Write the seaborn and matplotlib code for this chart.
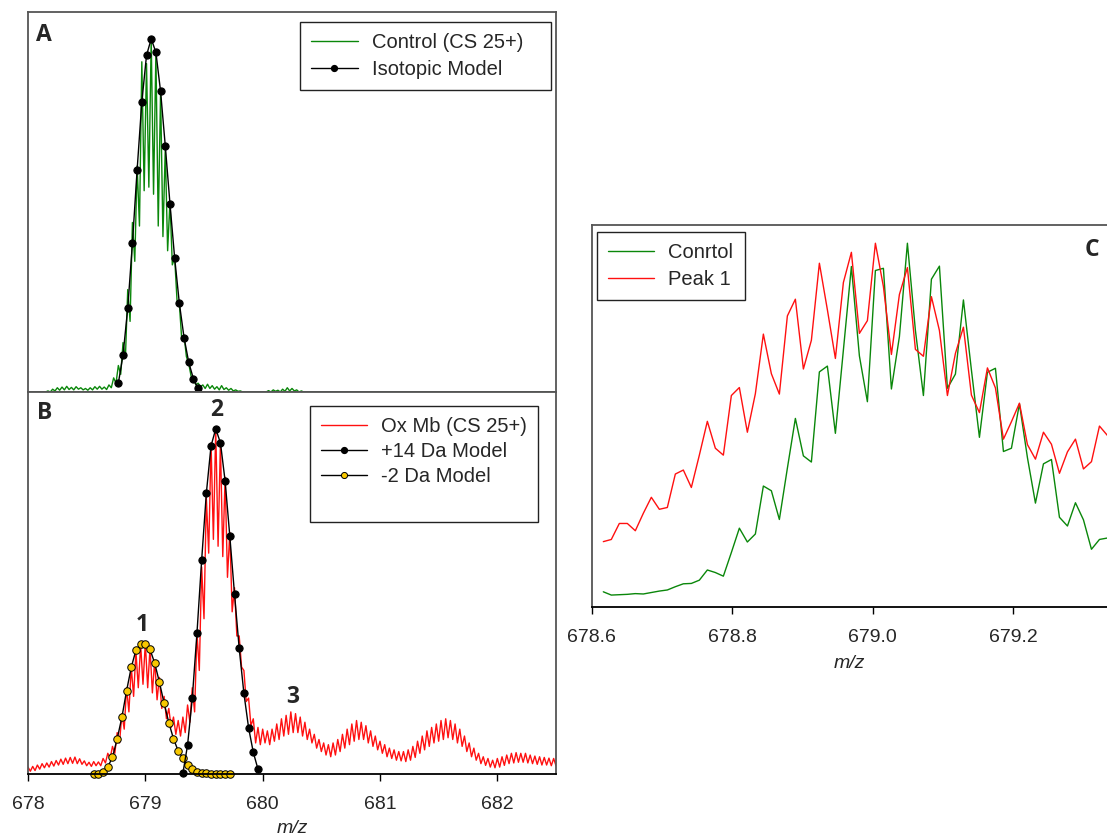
import numpy as np
import pandas as pd
import matplotlib
matplotlib.use("Agg")
import matplotlib.pyplot as plt
import seaborn as sns
from matplotlib.lines import Line2D

# ---------------- data ----------------
# Panel A: control spectrum, sampled every 0.02 m/z from 678.01
A_MZ_START, A_MZ_STEP = 678.01, 0.02
A_CONTROL = [
    0, 0, 0, 0, 0, 0, 0, 0, 0.3, 0.0,
    0.8, 0.3, 1.2, 0.5, 1.4, 0.6, 1.6, 0.7, 1.3, 0.6,
    1.5, 0.8, 1.2, 0.6, 1.0, 0.5, 1.2, 0.6, 1.5, 0.8,
    1.6, 0.8, 1.4, 0.7, 2.0, 1.2, 4.0, 2.5, 7.5, 5.0,
    14.0, 9.5, 29.0, 20.0, 48.0, 37.0, 64.0, 47.0, 93.5, 57.0,
    93.0, 58.0, 100.0, 56.0, 96.0, 47.0, 85.0, 44.0, 69.0, 40.0,
    54.0, 36.0, 38.0, 26.0, 25.0, 15.0, 16.0, 10.0, 8.0, 4.5,
    4.0, 2.0, 2.5, 1.5, 2.0, 1.0, 2.2, 1.0, 1.8, 0.8,
    1.5, 0.6, 1.8, 0.7, 1.2, 0.5, 1.0, 0.3, 0.6, 0.2,
    0.3, 0, 0, 0, 0, 0, 0, 0, 0, 0,
    0, 0, 0.4, 0, 0.6, 0.2, 0.5, 0, 0.8, 0.2,
    1.2, 0.3, 1.0, 0.3, 0.6, 0, 0.3, 0, 0, 0,
    0, 0, 0, 0, 0, 0, 0, 0, 0, 0,
    0, 0, 0, 0, 0, 0, 0, 0, 0, 0,
    0, 0, 0, 0, 0, 0, 0, 0, 0, 0,
    0, 0, 0, 0, 0, 0, 0, 0, 0, 0,
    0, 0, 0, 0, 0, 0, 0, 0, 0, 0,
    0, 0, 0, 0, 0, 0, 0, 0, 0, 0,
    0, 0, 0, 0, 0, 0, 0, 0, 0, 0,
    0, 0, 0, 0, 0, 0, 0, 0, 0, 0,
    0, 0, 0, 0, 0, 0, 0, 0, 0, 0,
    0, 0, 0, 0, 0, 0, 0, 0, 0, 0,
    0, 0, 0, 0, 0,
]
A_MODEL_MZ = [678.77, 678.81, 678.85, 678.89, 678.93, 678.97, 679.01, 679.05, 679.09,
              679.13, 679.17, 679.21, 679.25, 679.29, 679.33, 679.37, 679.41, 679.45]
A_MODEL_INT = [2.5, 10.5, 23.7, 42.1, 62.9, 82.1, 95.3, 100.0, 96.2,
               85.1, 69.7, 53.3, 37.9, 25.1, 15.4, 8.4, 3.7, 1.0]

# Panel B: oxidised Mb spectrum, sampled every 0.02 m/z from 678.00
B_MZ_START, B_MZ_STEP = 678.00, 0.02
B_OXMB = [
    2.0, 0.8, 2.2, 1.0, 2.6, 1.4, 3.0, 1.8, 3.2, 2.0,
    3.6, 2.3, 3.9, 2.6, 4.3, 2.8, 4.6, 3.0, 4.8, 3.1,
    4.9, 3.0, 4.4, 2.8, 3.8, 2.4, 3.4, 2.2, 3.6, 2.4,
    3.5, 2.4, 4.5, 3.2, 6.0, 4.5, 8.0, 6.0, 12.0, 9.0,
    17.5, 13.0, 25.0, 18.0, 31.0, 22.5, 35.5, 25.0, 37.5, 26.0,
    38.0, 25.0, 36.5, 23.5, 33.0, 21.5, 28.0, 19.0, 22.5, 16.0,
    19.0, 13.5, 16.5, 11.5, 15.5, 11.0, 16.5, 12.0, 20.0, 15.0,
    25.0, 18.0, 41.0, 30.0, 60.0, 45.0, 80.0, 64.0, 96.0, 68.0,
    100.0, 66.0, 96.0, 63.0, 86.0, 57.0, 70.0, 47.0, 54.0, 40.0,
    40.0, 31.0, 30.0, 21.0, 22.0, 14.0, 16.0, 9.0, 13.5, 8.5,
    13.0, 9.0, 12.5, 8.5, 13.0, 9.5, 14.5, 10.0, 16.0, 11.0,
    17.0, 11.5, 18.0, 12.0, 17.5, 12.0, 16.5, 11.0, 15.0, 10.0,
    13.0, 9.0, 11.5, 7.5, 10.0, 6.5, 9.0, 5.5, 8.5, 5.0,
    9.0, 5.5, 10.0, 6.5, 11.5, 7.5, 13.0, 8.5, 14.5, 9.5,
    15.5, 10.0, 15.0, 10.0, 14.0, 9.0, 12.5, 8.0, 11.0, 7.0,
    9.5, 6.0, 8.5, 5.0, 7.5, 4.5, 7.0, 4.0, 6.5, 3.8,
    6.5, 3.6, 7.0, 4.0, 8.0, 4.8, 9.5, 6.0, 11.0, 7.0,
    12.5, 8.0, 13.5, 9.0, 14.5, 9.5, 15.5, 10.0, 16.0, 10.5,
    15.5, 10.0, 14.5, 9.0, 13.0, 8.0, 11.0, 6.5, 9.0, 5.0,
    7.5, 4.0, 6.0, 3.0, 5.0, 2.5, 4.5, 2.0, 4.0, 1.8,
    4.5, 2.0, 5.0, 2.5, 5.5, 3.0, 6.0, 3.2, 6.2, 3.4,
    6.0, 3.4, 6.0, 3.2, 5.5, 3.0, 5.2, 2.8, 5.0, 2.6,
    4.8, 2.6, 4.6, 2.4, 4.5, 2.4,
]
B_P14_MZ = [679.32, 679.36, 679.40, 679.44, 679.48, 679.52, 679.56, 679.60, 679.64,
            679.68, 679.72, 679.76, 679.80, 679.84, 679.88, 679.92, 679.96]
B_P14_INT = [0.2, 8.4, 21.9, 40.8, 62.0, 81.4, 95.1, 100.0, 96.0,
             84.9, 68.9, 52.2, 36.4, 23.4, 13.4, 6.3, 1.4]
B_M2_MZ = [678.56, 678.60, 678.64, 678.68, 678.72, 678.76, 678.80, 678.84, 678.88, 678.92,
           678.96, 679.00, 679.04, 679.08, 679.12, 679.16, 679.20, 679.24, 679.28, 679.32,
           679.36, 679.40, 679.44, 679.48, 679.52, 679.56, 679.60, 679.64, 679.68, 679.72]
B_M2_INT = [0.0, 0.1, 0.7, 2.1, 4.8, 10.2, 16.4, 24.1, 30.9, 35.9,
            37.6, 37.6, 36.1, 32.1, 26.6, 20.5, 14.9, 10.2, 6.7, 4.6,
            2.5, 1.4, 0.7, 0.4, 0.2, 0.1, 0.1, 0.0, 0.0, 0.0]
PEAK_LABELS = ["1", "2", "3"]
PEAK_LABEL_MZ = [678.97, 679.61, 680.26]
PEAK_LABEL_Y = [43.2, 105.5, 22.3]

# Panel C: zoom of control vs peak 1, raw sampling (~0.0114 m/z)
C_MZ_START, C_MZ_STEP = 678.6164, 0.011393
C_CONTROL = [4.1, 3.2, 3.3, 3.4, 3.6, 3.5, 3.9, 4.3, 4.6, 5.5,
             6.3, 6.4, 7.3, 10.1, 9.4, 8.4, 14.9, 21.6, 17.8, 20.0,
             33.2, 31.9, 24.0, 38.1, 51.8, 41.5, 39.8, 64.6, 66.2, 47.7,
             70.6, 93.6, 69.0, 56.4, 92.5, 93.1, 59.9, 74.3, 100.0, 76.0,
             58.1, 90.1, 93.7, 60.1, 64.0, 84.4, 65.1, 46.6, 64.5, 65.6,
             42.7, 43.6, 55.8, 41.0, 28.5, 39.3, 40.5, 24.6, 22.2, 28.6,
             23.9, 15.8, 18.5, 18.9]
C_PEAK1 = [17.9, 18.5, 22.9, 22.9, 20.9, 25.7, 30.1, 26.8, 27.3, 36.5,
           37.6, 32.8, 41.7, 51.0, 43.6, 41.7, 58.1, 60.3, 48.0, 58.6,
           75.0, 64.1, 58.5, 80.0, 84.6, 65.4, 73.3, 94.5, 81.7, 68.3,
           89.2, 97.5, 75.2, 78.7, 100.0, 88.1, 69.4, 85.9, 93.3, 70.8,
           68.9, 85.3, 76.0, 58.1, 69.7, 76.9, 58.2, 53.4, 65.7, 60.2,
           46.1, 50.9, 56.0, 44.6, 40.6, 48.0, 44.7, 36.7, 42.6, 46.1,
           37.9, 39.9, 49.7, 47.1]
AB_TICKS = [678, 679, 680, 681, 682]
C_TICKS = [678.6, 678.8, 679.0, 679.2]

# ---------------- style ----------------
sns.set_style("white")
plt.rcParams["font.family"] = ["Liberation Sans", "DejaVu Sans"]
BOLD_FONT = ["Open Sans", "DejaVu Sans"]
GREEN = "#0a870a"
RED = "#ff1010"
YELLOW = "#f8c800"
SPINE = "#555555"
LEG_FS = 14.5
TICK_FS = 14
LAB_FS = 16.5

a_mz = np.round(A_MZ_START + A_MZ_STEP * np.arange(len(A_CONTROL)), 4)
b_mz = np.round(B_MZ_START + B_MZ_STEP * np.arange(len(B_OXMB)), 4)
c_mz = C_MZ_START + C_MZ_STEP * np.arange(len(C_CONTROL))

W, H = 1107, 836
fig = plt.figure(figsize=(W / 100, H / 100), dpi=100)
axA = fig.add_axes([28 / W, (H - 392) / H, 528 / W, 380 / H])
axB = fig.add_axes([28 / W, (H - 774) / H, 528 / W, 382 / H])
axC = fig.add_axes([591.8 / W, (H - 606.7) / H, (W - 591.8) / W, 382 / H])

line_kw = dict(estimator=None, sort=False, legend=False)
leg_kw = dict(borderaxespad=0, fontsize=LEG_FS, frameon=True, fancybox=False,
              framealpha=1, edgecolor="#222222", handlelength=2.3,
              handletextpad=0.7, borderpad=0.55)

# ---- Panel A ----
sns.lineplot(x=a_mz, y=A_CONTROL, ax=axA, color=GREEN, lw=1.0, **line_kw)
sns.lineplot(x=A_MODEL_MZ, y=A_MODEL_INT, ax=axA, color="black", lw=1.0,
             marker="o", markersize=5.2, markerfacecolor="black",
             markeredgecolor="black", clip_on=False, **line_kw)
axA.set_xlim(678.0, 682.5)
axA.set_ylim(0, 107.6)
axA.set_xticks([])
axA.set_yticks([])
axA.set_xlabel("")
axA.set_ylabel("")
axA.text(0.031, 0.94, "A", transform=axA.transAxes, fontsize=LAB_FS,
         fontweight="bold", family=BOLD_FONT, ha="center", va="center")
hA = [Line2D([], [], color=GREEN, lw=1.0),
      Line2D([], [], color="black", lw=1.0, marker="o", markersize=4.2,
             markerfacecolor="black", markeredgecolor="black")]
legA = axA.legend(hA, ["Control (CS 25+)   ", "Isotopic Model"], loc="upper right",
                  bbox_to_anchor=(0.9905, 0.974), labelspacing=0.42, **leg_kw)
legA.get_frame().set_linewidth(1.0)

# ---- Panel B ----
sns.lineplot(x=b_mz, y=B_OXMB, ax=axB, color=RED, lw=1.0, **line_kw)
sns.lineplot(x=B_M2_MZ, y=B_M2_INT, ax=axB, color="black", lw=1.0,
             marker="o", markersize=5.4, markerfacecolor=YELLOW,
             markeredgecolor="black", markeredgewidth=0.7, clip_on=False, **line_kw)
sns.lineplot(x=B_P14_MZ, y=B_P14_INT, ax=axB, color="black", lw=1.0,
             marker="o", markersize=5.2, markerfacecolor="black",
             markeredgecolor="black", clip_on=False, **line_kw)
axB.set_xlim(678.0, 682.5)
axB.set_ylim(0, 110.7)
axB.set_yticks([])
axB.set_xticks(AB_TICKS)
axB.set_xticklabels([str(t) for t in AB_TICKS])
axB.tick_params(axis="x", bottom=True, direction="out", length=5, width=1,
                color="black", pad=10.5, labelsize=TICK_FS)
axB.set_xlabel("m/z", fontsize=14, fontstyle="italic", labelpad=5.5)
axB.set_ylabel("")
axB.text(0.031, 0.945, "B", transform=axB.transAxes, fontsize=LAB_FS,
         fontweight="bold", family=BOLD_FONT, ha="center", va="center")
for lab, mz, yv in zip(PEAK_LABELS, PEAK_LABEL_MZ, PEAK_LABEL_Y):
    axB.text(mz, yv, lab, fontsize=LAB_FS, fontweight="bold", family=BOLD_FONT,
             ha="center", va="center", clip_on=False)
hB = [Line2D([], [], color=RED, lw=1.0),
      Line2D([], [], color="black", lw=1.0, marker="o", markersize=4.2,
             markerfacecolor="black", markeredgecolor="black"),
      Line2D([], [], color="black", lw=1.0, marker="o", markersize=4.4,
             markerfacecolor=YELLOW, markeredgecolor="black", markeredgewidth=0.7),
      Line2D([], [], color="none", lw=0)]
legB = axB.legend(hB, ["Ox Mb (CS 25+)", "+14 Da Model", "-2 Da Model", " "],
                  loc="upper right", bbox_to_anchor=(0.966, 0.963),
                  labelspacing=0.30, **leg_kw)
legB.get_frame().set_linewidth(1.0)

# ---- Panel C ----
sns.lineplot(x=c_mz, y=C_CONTROL, ax=axC, color=GREEN, lw=1.0, **line_kw)
sns.lineplot(x=c_mz, y=C_PEAK1, ax=axC, color=RED, lw=1.0, **line_kw)
axC.set_xlim(678.6, 679.3335)
axC.set_ylim(0, 105.1)
axC.set_yticks([])
axC.set_xticks(C_TICKS)
axC.set_xticklabels([f"{t:.1f}" for t in C_TICKS])
axC.tick_params(axis="x", bottom=True, direction="out", length=5, width=1,
                color="black", pad=11, labelsize=TICK_FS)
axC.set_xlabel("m/z", fontsize=14, fontstyle="italic", labelpad=6.5)
axC.set_ylabel("")
axC.spines["right"].set_visible(False)
axC.text(0.971, 0.934, "C", transform=axC.transAxes, fontsize=LAB_FS,
         fontweight="bold", family=BOLD_FONT, ha="center", va="center")
hC = [Line2D([], [], color=GREEN, lw=1.0), Line2D([], [], color=RED, lw=1.0)]
legC = axC.legend(hC, ["Conrtol", "Peak 1"], loc="upper left",
                  bbox_to_anchor=(0.010, 0.980), labelspacing=0.38, **leg_kw)
legC.get_frame().set_linewidth(1.0)

for ax in (axA, axB, axC):
    for name, sp in ax.spines.items():
        sp.set_color(SPINE)
        sp.set_linewidth(1.3)
axB.spines["bottom"].set_color("black")
axC.spines["bottom"].set_color("black")

fig.savefig("out.png", dpi=100)
